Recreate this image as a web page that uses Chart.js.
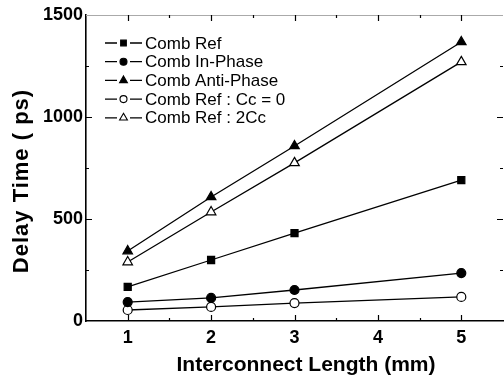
<!DOCTYPE html>
<html>
<head>
<meta charset="utf-8">
<script src="https://cdn.jsdelivr.net/npm/chart.js@4"></script>
<style>
html, body { margin: 0; padding: 0; background: #fff; }
</style>
</head>
<body>
<canvas id="myChart" width="504" height="385"></canvas>
<script>
// values (x = 4 has no data)
var xValues = [1, 2, 3, 5];
var combRef = [167, 299, 431, 691];
var combInPhase = [93, 113, 152, 235];
var combAntiPhase = [343, 608, 858, 1368];
var combRefCc0 = [54, 69, 88, 118];
var combRef2Cc = [289, 534, 775, 1270];
var seriesNames = ["Comb Ref", "Comb In-Phase", "Comb Anti-Phase", "Comb Ref : Cc = 0", "Comb Ref : 2Cc"];
var yTickLabels = [0, 500, 1000, 1500];
var xTickLabels = [1, 2, 3, 4, 5];
var xTitle = "Interconnect Length (mm)";
var yTitle = "Delay Time ( ps)";

var FONT = "'Liberation Sans', Arial, sans-serif";

function pts(arr) {
  return xValues.map(function (x, i) { return { x: x, y: arr[i] }; });
}

function series(name, arr, style, filled, radius) {
  return {
    label: name,
    data: pts(arr),
    borderColor: "#000",
    borderWidth: 1.3,
    pointStyle: style,
    pointRadius: radius,
    pointBackgroundColor: filled ? "#000" : "#fff",
    pointBorderColor: "#000",
    pointBorderWidth: 1.2,
    fill: false,
    tension: 0
  };
}

// inward tick marks, faint top frame, axis titles and the in-plot legend
var framePlugin = {
  id: "framePlugin",
  afterDraw: function (chart) {
    var ctx = chart.ctx, a = chart.chartArea;
    var xs = chart.scales.x, ys = chart.scales.y;
    ctx.save();
    ctx.strokeStyle = "#aaa";
    ctx.lineWidth = 1;
    ctx.beginPath();
    ctx.moveTo(a.left, a.top + 0.5);
    ctx.lineTo(a.right, a.top + 0.5);
    ctx.stroke();

    ctx.strokeStyle = "#000";
    ctx.lineWidth = 1.2;
    xs.ticks.forEach(function (t) {
      var px = Math.round(xs.getPixelForValue(t.value)) + 0.5;
      if (px <= a.left + 1 || px >= a.right - 1) return;
      var len = Number.isInteger(t.value) ? 6 : 3;
      ctx.beginPath();
      ctx.moveTo(px, a.bottom); ctx.lineTo(px, a.bottom - len);
      ctx.moveTo(px, a.top); ctx.lineTo(px, a.top + len);
      ctx.stroke();
    });
    ys.ticks.forEach(function (t) {
      var py = Math.round(ys.getPixelForValue(t.value)) + 0.5;
      if (py >= a.bottom - 1 || py <= a.top + 1) return;
      var len = t.value % 500 === 0 ? 6 : 3;
      ctx.beginPath();
      ctx.moveTo(a.left, py); ctx.lineTo(a.left + len, py);
      ctx.moveTo(a.right, py); ctx.lineTo(a.right - len, py);
      ctx.stroke();
    });

    // axis titles
    ctx.fillStyle = "#000";
    ctx.textAlign = "center";
    ctx.textBaseline = "middle";
    ctx.font = "bold 21px " + FONT;
    ctx.fillText(xTitle, 306, 365);
    ctx.save();
    ctx.translate(22, 181);
    ctx.rotate(-Math.PI / 2);
    ctx.font = "bold 22px " + FONT;
    ctx.letterSpacing = "1px";
    ctx.fillText(yTitle, 0, 0);
    ctx.restore();

    // legend
    ctx.textAlign = "left";
    ctx.font = "17px " + FONT;
    chart.data.datasets.forEach(function (ds, i) {
      var y = 43 + i * 18.7;
      ctx.strokeStyle = "#000";
      ctx.lineWidth = 1.3;
      ctx.beginPath();
      ctx.moveTo(105, y); ctx.lineTo(117, y);
      ctx.moveTo(130, y); ctx.lineTo(142, y);
      ctx.stroke();
      ctx.fillStyle = ds.pointBackgroundColor;
      ctx.lineWidth = 1.1;
      Chart.helpers.drawPoint(ctx, {
        pointStyle: ds.pointStyle,
        radius: ds.pointRadius - 1,
        rotation: 0,
        borderWidth: 1.1
      }, 123.5, y);
      ctx.fillStyle = "#000";
      ctx.fillText(ds.label, 145, y + 1);
    });
    ctx.restore();
  }
};

new Chart("myChart", {
  type: "line",
  data: {
    datasets: [
      series(seriesNames[0], combRef, "rect", true, 5),
      series(seriesNames[1], combInPhase, "circle", true, 4.5),
      series(seriesNames[2], combAntiPhase, "triangle", true, 5.5),
      series(seriesNames[3], combRefCc0, "circle", false, 4.5),
      series(seriesNames[4], combRef2Cc, "triangle", false, 5.5)
    ]
  },
  options: {
    responsive: false,
    animation: false,
    layout: { autoPadding: false, padding: { top: 15, right: 1, left: 0, bottom: 0 } },
    plugins: {
      legend: { display: false },
      tooltip: { enabled: false }
    },
    scales: {
      x: {
        type: "linear",
        min: 0.5,
        max: 5.5,
        afterFit: function (s) { s.height = 64; s.paddingLeft = 0; s.paddingRight = 0; },
        grid: { display: true, drawOnChartArea: false, drawTicks: false },
        border: { display: true, color: "#000", width: 1.6 },
        ticks: {
          stepSize: 0.5,
          padding: 6,
          color: "#000",
          font: { family: FONT, size: 18, weight: "bold" },
          callback: function (v) { return xTickLabels.indexOf(v) >= 0 ? String(v) : ""; }
        }
      },
      y: {
        min: 0,
        max: 1500,
        afterFit: function (s) { s.width = 86; s.paddingTop = 0; s.paddingBottom = 0; },
        grid: { display: true, drawOnChartArea: false, drawTicks: false },
        border: { display: true, color: "#000", width: 1.6 },
        ticks: {
          stepSize: 250,
          padding: 3,
          color: "#000",
          font: { family: FONT, size: 18, weight: "bold" },
          callback: function (v) { return yTickLabels.indexOf(v) >= 0 ? String(v) : ""; }
        }
      }
    }
  },
  plugins: [framePlugin]
});
</script>
</body>
</html>
